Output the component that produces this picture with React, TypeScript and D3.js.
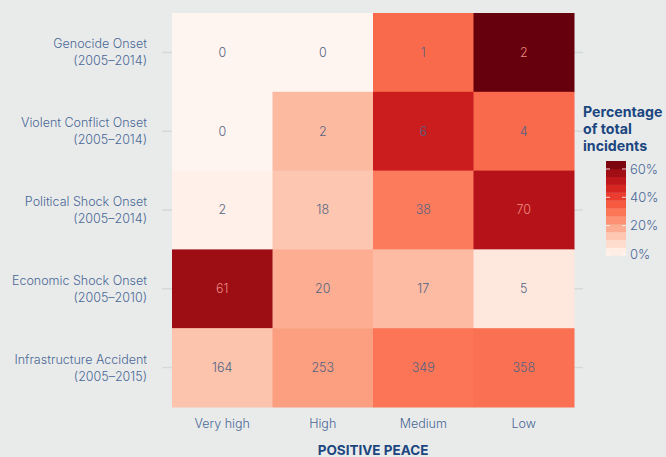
import React, { useEffect, useRef } from "react";
import * as d3 from "d3";

const rowLabels = [
  ["Genocide Onset", "(2005–2014)"],
  ["Violent Conflict Onset", "(2005–2014)"],
  ["Political Shock Onset", "(2005–2014)"],
  ["Economic Shock Onset", "(2005–2010)"],
  ["Infrastructure Accident", "(2005–2015)"],
];
const peaceLevels = ["Very high", "High", "Medium", "Low"];
const counts = [
  [0, 0, 1, 2],
  [0, 2, 6, 4],
  [2, 18, 38, 70],
  [61, 20, 17, 5],
  [164, 253, 349, 358],
];
const legendTicks = [0, 0.2, 0.4, 0.6];

const W = 666;
const H = 457;
const BG = "#e9ebeb";

const DrawChart = (element: any) => {
  d3.select(element).select("svg").remove(); // Remove the old svg

  const svg = d3
    .select(element)
    .append("svg")
    .attr("width", W)
    .attr("height", H)
    .style("display", "block")
    .style("background", BG)
    .style("font-family", "Inter, 'Open Sans', sans-serif");

  const x = d3.scaleBand().domain(peaceLevels).range([172, 574]);
  const y = d3
    .scaleBand()
    .domain(rowLabels.map((d) => d[0]))
    .range([13, 407]);

  // share of each row's total
  const cells: any[] = [];
  counts.forEach((row, i) => {
    const total = d3.sum(row);
    row.forEach((v, j) => {
      cells.push({ row: rowLabels[i][0], col: peaceLevels[j], value: v, pct: v / total });
    });
  });
  const maxPct = d3.max(cells, (d) => d.pct) as number;
  const color = d3.scaleSequential(d3.interpolateReds).domain([0, maxPct]);

  // faint gridlines at row centres
  svg
    .append("g")
    .selectAll("line")
    .data(rowLabels)
    .enter()
    .append("line")
    .attr("x1", 162)
    .attr("x2", 583)
    .attr("y1", (d) => (y(d[0]) as number) + y.bandwidth() / 2)
    .attr("y2", (d) => (y(d[0]) as number) + y.bandwidth() / 2)
    .attr("stroke", "#d6d9d9")
    .attr("stroke-width", 1.5);

  const g = svg.append("g");
  g.selectAll("rect")
    .data(cells)
    .enter()
    .append("rect")
    .attr("x", (d) => x(d.col) as number)
    .attr("y", (d) => y(d.row) as number)
    .attr("width", x.bandwidth() + 0.5)
    .attr("height", y.bandwidth() + 0.5)
    .attr("fill", (d) => color(d.pct));

  g.selectAll("text")
    .data(cells)
    .enter()
    .append("text")
    .attr("x", (d) => (x(d.col) as number) + x.bandwidth() / 2)
    .attr("y", (d) => (y(d.row) as number) + y.bandwidth() / 2)
    .attr("dy", "0.35em")
    .attr("text-anchor", "middle")
    .style("font-size", "12.5px")
    .style("font-weight", "300")
    .style("fill", (d) => (d.pct > 0.52 ? "#ee8a80" : "#536383"))
    .text((d) => d.value);

  // row labels
  const yl = svg
    .append("g")
    .selectAll("text")
    .data(rowLabels)
    .enter()
    .append("text")
    .attr("text-anchor", "end")
    .style("font-size", "12.5px")
    .style("font-weight", "300")
    .style("fill", "#4a6896");
  yl.append("tspan")
    .attr("x", 147)
    .attr("y", (d) => (y(d[0]) as number) + y.bandwidth() / 2 - 4)
    .text((d) => d[0]);
  yl.append("tspan")
    .attr("x", 147)
    .attr("y", (d) => (y(d[0]) as number) + y.bandwidth() / 2 + 13)
    .text((d) => d[1]);

  // column labels
  svg
    .append("g")
    .selectAll("text")
    .data(peaceLevels)
    .enter()
    .append("text")
    .attr("x", (d) => (x(d) as number) + x.bandwidth() / 2)
    .attr("y", 428)
    .attr("text-anchor", "middle")
    .style("font-size", "12.5px")
    .style("font-weight", "300")
    .style("fill", "#4a6896")
    .text((d) => d);

  svg
    .append("text")
    .attr("x", 373)
    .attr("y", 455)
    .attr("text-anchor", "middle")
    .style("font-size", "13.5px")
    .style("font-weight", "700")
    .style("fill", "#1b467f")
    .text("POSITIVE PEACE");

  // legend
  const lg = svg.append("g");
  ["Percentage", "of total", "incidents"].forEach((t, i) => {
    lg.append("text")
      .attr("x", 583)
      .attr("y", 117 + i * 17)
      .style("font-size", "14.2px")
      .style("font-weight", "700")
      .style("fill", "#1b467f")
      .text(t);
  });

  const ly = d3.scaleLinear().domain([0, maxPct]).range([255.5, 161]);
  const steps = d3.range(12).map((i) => (i * maxPct) / 12);
  lg.selectAll("rect")
    .data(steps)
    .enter()
    .append("rect")
    .attr("x", 606)
    .attr("width", 20)
    .attr("y", (d) => ly(d + maxPct / 12))
    .attr("height", ly(0) - ly(maxPct / 12) + 0.3)
    .attr("fill", (d) => color(d + maxPct / 24));

  const tk = lg.selectAll("g.tick").data(legendTicks).enter().append("g");
  tk.append("line")
    .attr("x1", 606)
    .attr("x2", 610)
    .attr("y1", (d) => ly(d) - 1.5)
    .attr("y2", (d) => ly(d) - 1.5)
    .attr("stroke", "#fff")
    .attr("stroke-opacity", 0.8);
  tk.append("line")
    .attr("x1", 622)
    .attr("x2", 626)
    .attr("y1", (d) => ly(d) - 1.5)
    .attr("y2", (d) => ly(d) - 1.5)
    .attr("stroke", "#fff")
    .attr("stroke-opacity", 0.8);
  tk.append("text")
    .attr("x", 630)
    .attr("y", (d) => ly(d) - 1.5)
    .attr("dy", "0.35em")
    .style("font-size", "13px")
    .style("font-weight", "300")
    .style("fill", "#4a6896")
    .text((d) => `${Math.round(d * 100)}%`);
};

export default function App() {
  const ref = useRef<HTMLDivElement>(null);
  useEffect(() => {
    document.body.style.margin = "0";
    document.body.style.background = BG;
    DrawChart(ref.current);
  }, []);
  return <div ref={ref} />;
}
